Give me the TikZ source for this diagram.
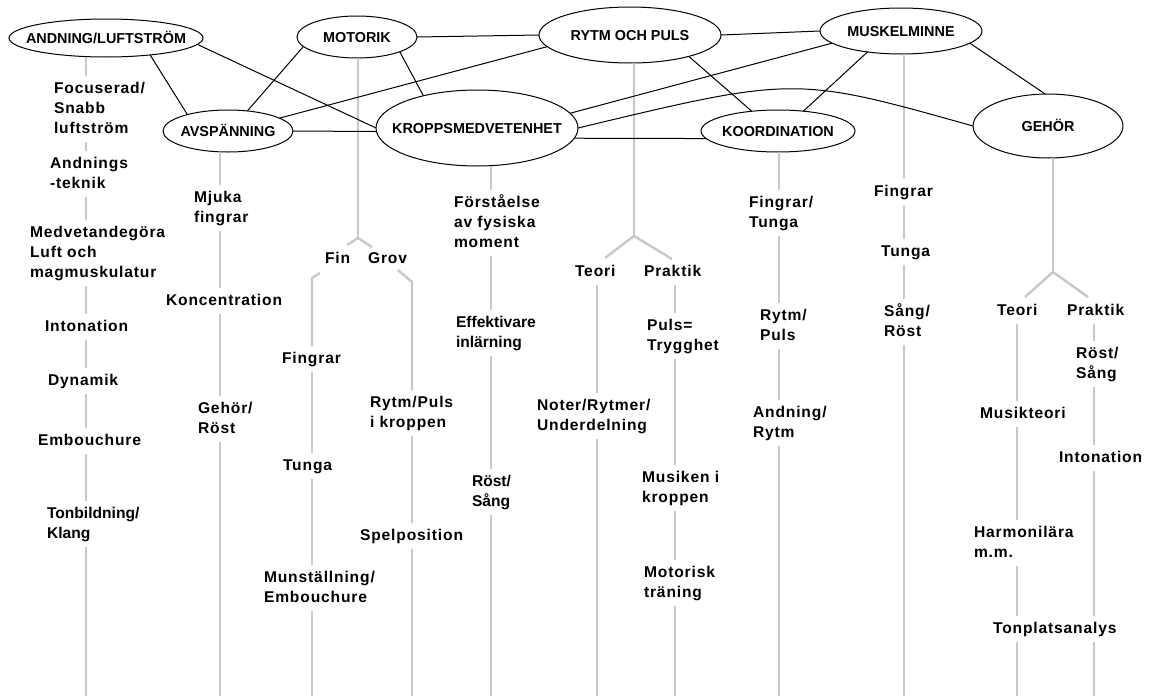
\documentclass[tikz,border=0pt]{standalone}
\usepackage{fontspec}
\setmainfont{Liberation Sans}
\newfontfamily\labfont[LetterSpace=5.5]{Liberation Sans}
\newfontfamily\plainlab{Liberation Sans}
\usetikzlibrary{shapes.geometric}
\definecolor{stemgray}{RGB}{200,200,200}
\tikzset{
 ell/.style={ellipse, draw=black, line width=0.5pt, fill=white, inner sep=0pt, outer sep=0pt,
   text height=5.2pt, text depth=0pt, font=\fontsize{7.2}{8}\selectfont\bfseries},
 conn/.style={draw=black, line width=0.5pt},
 stem/.style={draw=stemgray, line width=1.2pt},
 stemtop/.style={stem, shorten >=1.5pt},
 stemlab/.style={stem, shorten <=1.5pt, shorten >=1.5pt},
 stembot/.style={stem, shorten <=1.5pt},
 lab/.style={anchor=north west, inner sep=0pt, outer sep=0pt, align=left,
   font=\labfont\fontsize{7.8}{10}\selectfont\bfseries},
 labn/.style={lab, font=\plainlab\fontsize{7.8}{10}\selectfont\bfseries},
}
\begin{document}
\begin{tikzpicture}[x=0.5pt,y=-0.5pt]
\fill[white] (0,0) rectangle (1149,696);
\useasboundingbox (0,0) rectangle (1149,696);
\coordinate (bot) at (0,696);

% ---- ellipses ----
\node[ell, minimum width=97pt, minimum height=19pt] (andn) at (106,38) {\makebox[0pt]{ANDNING/LUFTSTRÖM}};
\node[ell, minimum width=60pt, minimum height=21pt] (motor) at (357,37) {\makebox[0pt]{MOTORIK}};
\node[ell, minimum width=65pt, minimum height=21pt] (avsp) at (228,131) {\makebox[0pt]{AVSPÄNNING}};
\node[ell, minimum width=101pt, minimum height=38pt] (kropp) at (477,128) {\makebox[0pt]{KROPPSMEDVETENHET}};
\node[ell, minimum width=91pt, minimum height=28pt] (rytm) at (630,35) {\makebox[0pt]{RYTM OCH PULS}};
\node[ell, minimum width=77pt, minimum height=21pt] (koord) at (778,131) {\makebox[0pt]{KOORDINATION}};
\node[ell, minimum width=81pt, minimum height=23pt] (muskel) at (901,31) {\makebox[0pt]{MUSKELMINNE}};
\node[ell, minimum width=75pt, minimum height=32pt] (gehor) at (1048,126) {\makebox[0pt]{GEHÖR}};

% ---- labels ----
% column 1
\node[lab] (f1) at (54,79) {\strut Focuserad/\\Snabb\\luftström\strut};
\node[lab] (f2) at (50,154) {\strut Andnings\\-teknik\strut};
\node[lab] (f3) at (30,223) {\strut Medvetandegöra\\Luft och\\magmuskulatur\strut};
\node[lab] (f4) at (45,317) {\strut Intonation\strut};
\node[lab] (f5) at (48,371) {\strut Dynamik\strut};
\node[lab] (f6) at (38,431) {\strut Embouchure\strut};
\node[labn] (f7) at (47,504) {\strut Tonbildning/\\Klang\strut};
% column 2
\node[lab] (g1) at (194,188) {\strut Mjuka\\fingrar\strut};
\node[lab] (g2) at (166,291) {\strut Koncentration\strut};
\node[lab] (g3) at (198,399) {\strut Gehör/\\Röst\strut};
% column 3
\node[lab] (fin) at (325,249) {\strut Fin\strut};
\node[lab] (grov) at (368,249) {\strut Grov\strut};
\node[lab] (h1) at (282,349) {\strut Fingrar\strut};
\node[lab] (h2) at (283,456) {\strut Tunga\strut};
\node[lab] (h3) at (264,568) {\strut Munställning/\\Embouchure\strut};
\node[lab] (k1) at (370,393) {\strut Rytm/Puls\\i kroppen\strut};
\node[lab] (k2) at (360,526) {\strut Spelposition\strut};
% column 4
\node[lab] (m1) at (454,193) {\strut Förståelse\\av fysiska\\moment\strut};
\node[labn] (m2) at (456,313) {\strut Effektivare\\inlärning\strut};
\node[labn] (m3) at (472,472) {\strut Röst/\\Sång\strut};
% column 5
\node[lab] (teori5) at (575,262) {\strut Teori\strut};
\node[lab] (prak5) at (644,262) {\strut Praktik\strut};
\node[lab] (n1) at (537,396) {\strut Noter/Rytmer/\\Underdelning\strut};
\node[lab] (p1) at (647,316) {\strut Puls=\\Trygghet\strut};
\node[lab] (p2) at (642,468) {\strut Musiken i\\kroppen\strut};
\node[lab] (p3) at (644,563) {\strut Motorisk\\träning\strut};
% column 6
\node[lab] (q1) at (749,193) {\strut Fingrar/\\Tunga\strut};
\node[lab] (q2) at (760,306) {\strut Rytm/\\Puls\strut};
\node[lab] (q3) at (753,403) {\strut Andning/\\Rytm\strut};
% column 7
\node[lab] (r1) at (874,182) {\strut Fingrar\strut};
\node[lab] (r2) at (881,242) {\strut Tunga\strut};
\node[lab] (r3) at (884,302) {\strut Sång/\\Röst\strut};
% column 8
\node[lab] (teori8) at (997,301) {\strut Teori\strut};
\node[lab] (prak8) at (1067,301) {\strut Praktik\strut};
\node[lab] (s1) at (980,404) {\strut Musikteori\strut};
\node[lab] (s2) at (974,523) {\strut Harmonilära\\m.m.\strut};
\node[lab] (s3) at (993,619) {\strut Tonplatsanalys\strut};
\node[lab] (t1) at (1076,344) {\strut Röst/\\Sång\strut};
\node[lab] (t2) at (1059,448) {\strut Intonation\strut};

% ---- stem columns ----
\coordinate (x1) at (86,0);
\coordinate (x2) at (220,0);
\coordinate (x3) at (358,0);
\coordinate (x3a) at (312,0);
\coordinate (x3b) at (412,0);
\coordinate (x4) at (491,0);
\coordinate (x5) at (634,0);
\coordinate (x5a) at (597,0);
\coordinate (x5b) at (675,0);
\coordinate (x6) at (779,0);
\coordinate (x7) at (904,0);
\coordinate (x8) at (1053,0);
\coordinate (x8a) at (1017,0);
\coordinate (x8b) at (1094,0);

% column 1
\draw[stemtop] (x1 |- andn.south) -- (x1 |- f1.north);
\draw[stemlab] (x1 |- f1.south) -- (x1 |- f2.north);
\draw[stemlab] (x1 |- f2.south) -- (x1 |- f3.north);
\draw[stemlab] (x1 |- f3.south) -- (x1 |- f4.north);
\draw[stemlab] (x1 |- f4.south) -- (x1 |- f5.north);
\draw[stemlab] (x1 |- f5.south) -- (x1 |- f6.north);
\draw[stemlab] (x1 |- f6.south) -- (x1 |- f7.north);
\draw[stembot] (x1 |- f7.south) -- (x1 |- bot);
% column 2
\draw[stemtop] (x2 |- avsp.south) -- (x2 |- g1.north);
\draw[stemlab] (x2 |- g1.south) -- (x2 |- g2.north);
\draw[stemlab] (x2 |- g2.south) -- (x2 |- g3.north);
\draw[stembot] (x2 |- g3.south) -- (x2 |- bot);
% column 3
\coordinate (b3) at (358,238);
\coordinate (b3l) at (347,245);
\coordinate (b3r) at (372,247);
\coordinate (fa) at (320,273);
\coordinate (fb) at (312,278);
\coordinate (ga) at (398,270);
\coordinate (gb) at (412,282);
\draw[stem] (x3 |- motor.south) -- (b3);
\draw[stem] (b3) -- (b3l);
\draw[stem] (b3) -- (b3r);
\draw[stem, shorten >=1.5pt] (fa) -- (fb) -- (x3a |- h1.north);
\draw[stemlab] (x3a |- h1.south) -- (x3a |- h2.north);
\draw[stemlab] (x3a |- h2.south) -- (x3a |- h3.north);
\draw[stembot] (x3a |- h3.south) -- (x3a |- bot);
\draw[stem, shorten >=1.5pt] (ga) -- (gb) -- (x3b |- k1.north);
\draw[stemlab] (x3b |- k1.south) -- (x3b |- k2.north);
\draw[stembot] (x3b |- k2.south) -- (x3b |- bot);
% column 4
\draw[stemtop] (x4 |- kropp.south) -- (x4 |- m1.north);
\draw[stemlab] (x4 |- m1.south) -- (x4 |- m2.north);
\draw[stemlab] (x4 |- m2.south) -- (x4 |- m3.north);
\draw[stembot] (x4 |- m3.south) -- (x4 |- bot);
% column 5
\coordinate (b5) at (634,236);
\coordinate (b5l) at (605,258);
\coordinate (b5r) at (672,259);
\draw[stem] (x5 |- rytm.south) -- (b5);
\draw[stem] (b5) -- (b5l);
\draw[stem] (b5) -- (b5r);
\draw[stemlab] (x5a |- teori5.south) -- (x5a |- n1.north);
\draw[stembot] (x5a |- n1.south) -- (x5a |- bot);
\draw[stemlab] (x5b |- prak5.south) -- (x5b |- p1.north);
\draw[stemlab] (x5b |- p1.south) -- (x5b |- p2.north);
\draw[stemlab] (x5b |- p2.south) -- (x5b |- p3.north);
\draw[stembot] (x5b |- p3.south) -- (x5b |- bot);
% column 6
\draw[stemtop] (x6 |- koord.south) -- (x6 |- q1.north);
\draw[stemlab] (x6 |- q1.south) -- (x6 |- q2.north);
\draw[stemlab] (x6 |- q2.south) -- (x6 |- q3.north);
\draw[stembot] (x6 |- q3.south) -- (x6 |- bot);
% column 7
\draw[stemtop] (x7 |- muskel.south) -- (x7 |- r1.north);
\draw[stemlab] (x7 |- r1.south) -- (x7 |- r2.north);
\draw[stemlab] (x7 |- r2.south) -- (x7 |- r3.north);
\draw[stembot] (x7 |- r3.south) -- (x7 |- bot);
% column 8
\coordinate (b8) at (1053,272);
\coordinate (b8l) at (1025,297);
\coordinate (b8r) at (1088,297);
\draw[stem] (x8 |- gehor.south) -- (b8);
\draw[stem] (b8) -- (b8l);
\draw[stem] (b8) -- (b8r);
\draw[stemlab] (x8a |- teori8.south) -- (x8a |- s1.north);
\draw[stemlab] (x8a |- s1.south) -- (x8a |- s2.north);
\draw[stemlab] (x8a |- s2.south) -- (x8a |- s3.north);
\draw[stembot] (x8a |- s3.south) -- (x8a |- bot);
\draw[stemlab] (x8b |- prak8.south) -- (x8b |- t1.north);
\draw[stemlab] (x8b |- t1.south) -- (x8b |- t2.north);
\draw[stemlab] (x8b |- t2.south) -- (x8b |- s3.north);
\draw[stembot] (x8b |- s3.south) -- (x8b |- bot);

% ---- black connectors ----
\draw[conn] (andn.-21) -- (avsp.158);
\draw[conn] (andn.-4) -- (kropp.180);
\draw[conn] (motor.190) -- (avsp.46);
\draw[conn] (motor.0) -- (rytm.180);
\draw[conn] (motor.-19) -- (kropp.149);
\draw[conn] (rytm.188) -- (avsp.14);
\draw[conn] (avsp.0) -- (kropp.182);
\draw[conn] (rytm.-20) -- (koord.143);
\draw[conn] (rytm.0) -- (muskel.180);
\draw[conn] (muskel.190) -- (kropp.9);
\draw[conn] (muskel.212) -- (koord.38);
\draw[conn] (muskel.-10) -- (gehor.95);
\draw[conn] (kropp.0) .. controls (795,76) .. (gehor.180);
\draw[conn] (kropp.-6) -- (koord.186);
\end{tikzpicture}
\end{document}
